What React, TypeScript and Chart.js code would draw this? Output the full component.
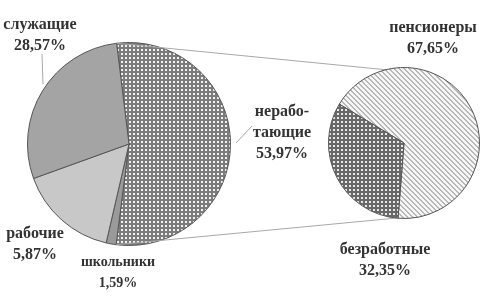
import React, { useEffect, useRef } from "react";
import { Chart, registerables } from "chart.js";

Chart.register(...registerables);

// ---- data ----
const mainCategories = ["неработающие", "школьники", "рабочие", "служащие"];
const mainValues = [53.97, 1.59, 15.87, 28.57];
const subCategories = ["пенсионеры", "безработные"];
const subValues = [67.65, 32.35];

// label texts as printed in the picture
const mainLabelLines = [
  ["нерабо-", "тающие", "53,97%"],
  ["школьники", "1,59%"],
  ["рабочие", "5,87%"],
  ["служащие", "28,57%"],
];
const subLabelLines = [
  ["пенсионеры", "67,65%"],
  ["безработные", "32,35%"],
];

// ---- layout ----
const W = 493;
const H = 296;
const mainLabelPos = [
  [282, 112],
  [118, 262],
  [35, 234],
  [40, 25],
];
const subLabelPos = [
  [433, 28],
  [385, 250],
];
const LINE_GAP = 21;
const leaders = [
  [[42, 54], [43, 84]],
  [[252, 126], [236, 143]],
];
const SUB_LINK_TOP_DEG = -14;
const SUB_LINK_BOTTOM_DEG = 186;

function pattern(size: number, painter: (x: number, y: number) => string) {
  const c = document.createElement("canvas");
  c.width = size;
  c.height = size;
  const g = c.getContext("2d")!;
  for (let y = 0; y < size; y++)
    for (let x = 0; x < size; x++) {
      g.fillStyle = painter(x, y);
      g.fillRect(x, y, 1, 1);
    }
  return g.createPattern(c, "repeat")!;
}

export default function App() {
  const ref1 = useRef<HTMLCanvasElement>(null);
  const ref2 = useRef<HTMLCanvasElement>(null);

  useEffect(() => {
    const checker = pattern(4, (x, y) =>
      x >= 1 && x <= 2 && y >= 1 && y <= 2 ? "#f2f2f2" : "#7c7c7c"
    );
    const darkChecker = pattern(4, (x, y) =>
      x >= 1 && x <= 2 && y >= 1 && y <= 2 ? "#e8e8e8" : "#686868"
    );
    const diag = pattern(5, (x, y) => ((x - y + 10) % 5 < 2 ? "#b8b8b8" : "#f6f6f6"));

    const c1 = new Chart(ref1.current!, {
      type: "pie",
      data: {
        labels: mainCategories,
        datasets: [
          {
            data: mainValues,
            backgroundColor: [checker, "#9a9a9a", "#c8c8c8", "#a4a4a4"] as any,
            borderColor: "#555",
            borderWidth: 1,
          },
        ],
      },
      options: {
        responsive: false,
        animation: false,
        rotation: -7,
        layout: { padding: { left: 27, top: 42, right: 262, bottom: 50 } },
        plugins: { legend: { display: false }, tooltip: { enabled: false } },
      },
    });

    const overlay = {
      id: "overlay",
      beforeDatasetsDraw(chart: any) {
        const ctx = chart.ctx;
        const m1 = c1.getDatasetMeta(0).data[0] as any;
        const m2 = chart.getDatasetMeta(0).data[0] as any;
        const p = (cx: number, cy: number, r: number, a: number) => [
          cx + r * Math.cos(a),
          cy + r * Math.sin(a),
        ];
        const toRad = (d: number) => ((d - 90) * Math.PI) / 180;
        const a1 = p(m1.x, m1.y, m1.outerRadius, m1.startAngle);
        const b1 = p(m1.x, m1.y, m1.outerRadius, m1.endAngle);
        const a2 = p(m2.x, m2.y, m2.outerRadius, toRad(SUB_LINK_TOP_DEG));
        const b2 = p(m2.x, m2.y, m2.outerRadius, toRad(SUB_LINK_BOTTOM_DEG));
        ctx.save();
        ctx.strokeStyle = "#a8a8a8";
        ctx.lineWidth = 1;
        ctx.beginPath();
        ctx.moveTo(a1[0], a1[1]);
        ctx.lineTo(a2[0], a2[1]);
        ctx.moveTo(b1[0], b1[1]);
        ctx.lineTo(b2[0], b2[1]);
        for (const [s, e] of leaders) {
          ctx.moveTo(s[0], s[1]);
          ctx.lineTo(e[0], e[1]);
        }
        ctx.stroke();
        ctx.restore();
      },
      afterDraw(chart: any) {
        const ctx = chart.ctx;
        ctx.save();
        ctx.fillStyle = "#333";
        ctx.textAlign = "center";
        ctx.textBaseline = "middle";
        const draw = (lines: string[], pos: number[], size: number) => {
          ctx.font = `bold ${size}px "Liberation Serif", serif`;
          lines.forEach((t, i) => ctx.fillText(t, pos[0], pos[1] + i * LINE_GAP));
        };
        mainLabelLines.forEach((l, i) => draw(l, mainLabelPos[i], i === 1 ? 14 : 16));
        subLabelLines.forEach((l, i) => draw(l, subLabelPos[i], 16));
        ctx.restore();
      },
    };

    const c2 = new Chart(ref2.current!, {
      type: "pie",
      data: {
        labels: subCategories,
        datasets: [
          {
            data: subValues,
            backgroundColor: [diag, darkChecker] as any,
            borderColor: "#555",
            borderWidth: 1,
          },
        ],
      },
      options: {
        responsive: false,
        animation: false,
        rotation: -59,
        layout: { padding: { left: 328, top: 67, right: 13, bottom: 77 } },
        plugins: { legend: { display: false }, tooltip: { enabled: false } },
      },
      plugins: [overlay],
    });

    return () => {
      c2.destroy();
      c1.destroy();
    };
  }, []);

  const st: React.CSSProperties = { position: "absolute", left: 0, top: 0, width: W, height: H };
  return (
    <div style={{ position: "fixed", left: 0, top: 0, width: W, height: H, background: "#fff" }}>
      <canvas ref={ref1} width={W} height={H} style={st} />
      <canvas ref={ref2} width={W} height={H} style={st} />
    </div>
  );
}
